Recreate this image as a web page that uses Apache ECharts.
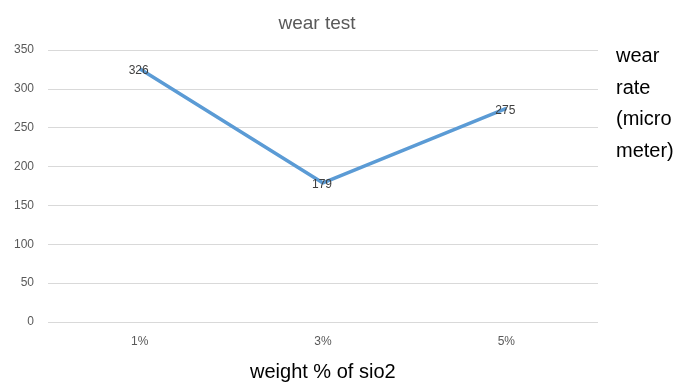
<!DOCTYPE html>
<html>
<head>
<meta charset="utf-8">
<script src="https://cdn.jsdelivr.net/npm/echarts@6/dist/echarts.min.js"></script>
<style>
  html, body { margin: 0; padding: 0; background: #fff; }
  #chart { width: 692px; height: 383px; }
</style>
</head>
<body>
<div id="chart"></div>
<script>
const categories = ['1%', '3%', '5%']
const wearValues = [326, 179, 275]
const yTicks = [0, 50, 100, 150, 200, 250, 300, 350]

const narrow = '"Liberation Sans Narrow", "Liberation Sans", Arial, sans-serif'
const chart = echarts.init(document.getElementById('chart'))
chart.setOption({
  animation: false,
  title: {
    text: 'wear test',
    left: 312,
    top: 9,
    textAlign: 'center',
    textStyle: { fontFamily: narrow, fontSize: 19, fontWeight: 'normal', color: '#595959' }
  },
  grid: { left: 48, right: 94, top: 50, bottom: 61 },
  xAxis: {
    type: 'category',
    data: categories,
    boundaryGap: true,
    axisLine: { show: false },
    axisTick: { show: false },
    axisLabel: { fontFamily: narrow, fontSize: 12, color: '#595959', margin: 14 }
  },
  yAxis: {
    type: 'value',
    min: yTicks[0],
    max: yTicks[yTicks.length - 1],
    interval: 50,
    axisLine: { show: false },
    axisTick: { show: false },
    splitLine: { lineStyle: { color: '#d9d9d9', width: 1 } },
    axisLabel: { fontFamily: narrow, fontSize: 12, color: '#595959', margin: 14 }
  },
  series: [{
    type: 'line',
    data: wearValues,
    symbol: 'circle',
    symbolSize: 2,
    showSymbol: true,
    itemStyle: { color: 'rgba(0,0,0,0)' },
    lineStyle: { color: '#5b9bd5', width: 3.5 },
    label: {
      show: true,
      position: 'inside',
      offset: [-1, 2],
      fontFamily: narrow,
      fontSize: 12,
      color: '#404040'
    }
  }],
  graphic: [
    {
      type: 'text',
      left: 616,
      top: 41,
      style: {
        text: 'wear\nrate\n(micro\nmeter)',
        font: '20px "Liberation Sans", Arial, sans-serif',
        lineHeight: 31.5,
        fill: '#000'
      }
    },
    {
      type: 'text',
      left: 250,
      top: 362,
      style: {
        text: 'weight % of sio2',
        font: '20px "Liberation Sans", Arial, sans-serif',
        fill: '#000'
      }
    }
  ]
})
</script>
</body>
</html>
